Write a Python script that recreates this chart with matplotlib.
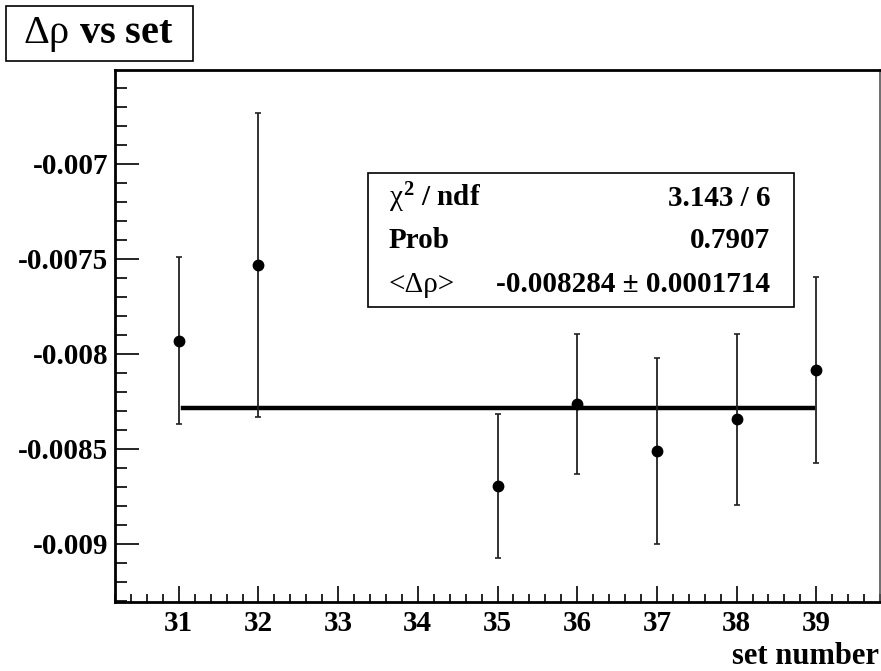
import numpy as np
import matplotlib
matplotlib.use('Agg')
from matplotlib import pyplot as plt
from matplotlib.patches import Rectangle
from matplotlib.ticker import MultipleLocator, FormatStrFormatter

plt.rcParams['font.family'] = ['Liberation Serif', 'DejaVu Serif']
plt.rcParams['mathtext.fontset'] = 'custom'
plt.rcParams['mathtext.rm'] = 'Liberation Serif'
plt.rcParams['mathtext.it'] = 'Liberation Serif'
plt.rcParams['mathtext.bf'] = 'Liberation Serif:bold'

# data
set_number = [31, 32, 35, 36, 37, 38, 39]
delta_rho = [-0.00793, -0.00753, -0.008695, -0.008263, -0.008514, -0.008344, -0.008086]
delta_rho_err = [0.00044, 0.0008, 0.00038, 0.00037, 0.00049, 0.00045, 0.00049]
fit_mean = -0.008284
fit_range = [31.05, 38.96]
stats_labels = [r'$\chi^{\mathbf{2}}$ / ndf', 'Prob', '<\u0394\u03c1>']
stats_values = ['3.143 / 6', '0.7907', '-0.008284 \u00b1 0.0001714']

W, H = 881, 671
fig = plt.figure(figsize=(W / 100, H / 100), dpi=100)

def fx(px):
    return px / W

def fy(py):
    return 1 - py / H

ax = fig.add_axes([fx(115), fy(602), fx(880) - fx(115), fy(70) - fy(602)])
ax.set_xlim(30.2, 39.8)
ax.set_ylim(-0.009307, -0.006505)

ax.errorbar(set_number, delta_rho, yerr=delta_rho_err, fmt='o', color='black',
            ecolor='#222222', elinewidth=1.3, capsize=2.5, capthick=1.2,
            markersize=7.5, zorder=3)
ax.plot(fit_range, [fit_mean, fit_mean], color='black', linewidth=3.2, zorder=2)

# ROOT-like axes
ax.xaxis.set_major_locator(MultipleLocator(1))
ax.xaxis.set_minor_locator(MultipleLocator(0.2))
ax.yaxis.set_major_locator(MultipleLocator(0.0005))
ax.yaxis.set_minor_locator(MultipleLocator(0.0001))
ax.yaxis.set_major_formatter(FormatStrFormatter('%g'))
ax.tick_params(axis='both', which='both', direction='in', top=False, right=False,
               width=1.2, labelsize=21)
ax.tick_params(axis='y', which='major', length=17, pad=5)
ax.tick_params(axis='y', which='minor', length=8.5)
ax.tick_params(axis='x', which='major', length=11.5, pad=6)
ax.tick_params(axis='x', which='minor', length=6)
for lab in ax.get_xticklabels() + ax.get_yticklabels():
    lab.set_fontweight('bold')
for side in ['left', 'bottom', 'top']:
    ax.spines[side].set_linewidth(2)
ax.spines['right'].set_linewidth(1.2)
ax.spines['right'].set_color('#555555')

fig.text(fx(879), fy(656), 'set number', ha='right', va='center',
         fontsize=22, fontweight='bold')

# title box
fig.patches.append(Rectangle((fx(6), fy(61)), fx(193) - fx(6), fy(6) - fy(61),
                             transform=fig.transFigure, fill=False,
                             edgecolor='black', linewidth=1.2))
fig.text(fx(98), fy(34), r'$\Delta\rho$ vs set', ha='center', va='center',
         fontsize=29, fontweight='bold')

# stats box
fig.patches.append(Rectangle((fx(368), fy(307)), fx(794) - fx(368), fy(173) - fy(307),
                             transform=fig.transFigure, facecolor='white',
                             edgecolor='black', linewidth=1.2, zorder=5))
rows_y = [198, 241, 285]
label_weights = ['bold', 'bold', 'normal']
for lab, val, yy, wt in zip(stats_labels, stats_values, rows_y, label_weights):
    fig.text(fx(389), fy(yy), lab, ha='left', va='center', fontsize=21,
             fontweight=wt, zorder=6)
    fig.text(fx(770), fy(yy), val, ha='right', va='center', fontsize=21,
             fontweight='bold', zorder=6)

fig.savefig('out.png', dpi=100)
